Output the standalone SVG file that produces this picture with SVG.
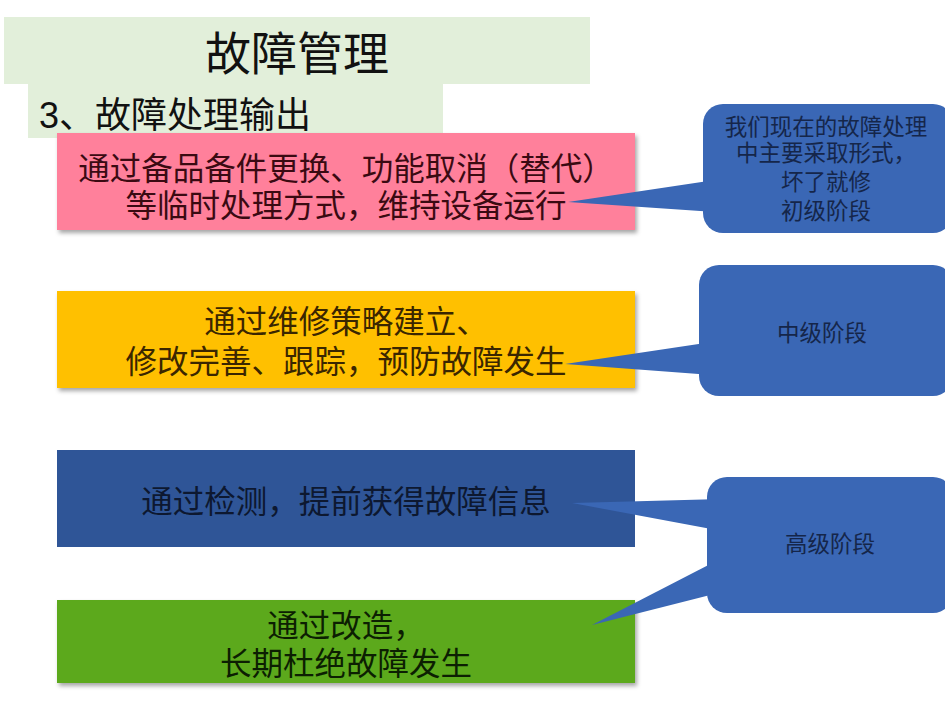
<svg xmlns="http://www.w3.org/2000/svg" width="945" height="718" viewBox="0 0 945 718">
<defs>
<filter id="sh" x="-5%" y="-10%" width="110%" height="130%">
<feDropShadow dx="2" dy="3" stdDeviation="2" flood-color="#000" flood-opacity="0.35"/>
</filter>
</defs>
<style>
.cjk{font-family:"Liberation Sans","Noto Sans CJK SC",sans-serif;}
.box{font-size:31.5px;text-anchor:middle;}
.call{fill:#3A67B5;}
.ct{font-size:22.5px;text-anchor:middle;fill:#15264a;}
.hd{fill:#E2EFDA;}
</style>
<rect width="945" height="718" fill="#fff"/>
<g id="title">
<rect class="hd" x="4" y="17" width="586" height="67"/>
<text class="cjk" x="297" y="70" font-size="46" text-anchor="middle" fill="#111">故障管理</text>
</g>
<g id="subtitle">
<rect class="hd" x="28" y="84" width="415" height="54"/>
<text class="cjk" x="39" y="128" font-size="36" fill="#111">3、故障处理输出</text>
</g>
<g id="box1">
<rect x="57" y="133" width="578" height="97" fill="#FF809B" filter="url(#sh)"/>
<text class="cjk box" x="346" y="180" fill="#3a0a12">通过备品备件更换、功能取消（替代）</text>
<text class="cjk box" x="346" y="217" fill="#3a0a12">等临时处理方式，维持设备运行</text>
</g>
<g id="box2">
<rect x="57" y="291" width="578" height="97" fill="#FFC000" filter="url(#sh)"/>
<text class="cjk box" x="346" y="333" fill="#3a2600">通过维修策略建立、</text>
<text class="cjk box" x="346" y="373" fill="#3a2600">修改完善、跟踪，预防故障发生</text>
</g>
<g id="box3">
<rect x="57" y="450" width="578" height="97" fill="#2F5597"/>
<text class="cjk box" x="346" y="513" fill="#0d1830">通过检测，提前获得故障信息</text>
</g>
<g id="box4">
<rect x="57" y="600" width="578" height="83" fill="#5CA91F" filter="url(#sh)"/>
<text class="cjk box" x="346" y="637" fill="#0c1f02">通过改造，</text>
<text class="cjk box" x="346" y="675" fill="#0c1f02">长期杜绝故障发生</text>
</g>
<g id="connectors">
<polygon class="call" points="715,180 568,202 715,212"/>
<polygon class="call" points="712,342 565,364 712,375"/>
<polygon class="call" points="722,499 572,503 722,531"/>
<polygon class="call" points="722,558 592,625 722,592"/>
</g>
<g id="callout1">
<rect class="call" x="703" y="104" width="250" height="129" rx="20"/>
<text class="cjk ct" x="826" y="135">我们现在的故障处理</text>
<text class="cjk ct" x="826" y="161">中主要采取形式，</text>
<text class="cjk ct" x="826" y="190">坏了就修</text>
<text class="cjk ct" x="826" y="219">初级阶段</text>
</g>
<g id="callout2">
<rect class="call" x="699" y="265" width="254" height="131" rx="20"/>
<text class="cjk ct" x="822" y="341">中级阶段</text>
</g>
<g id="callout3">
<rect class="call" x="707" y="477" width="246" height="136" rx="20"/>
<text class="cjk ct" x="830" y="552">高级阶段</text>
</g>
</svg>
